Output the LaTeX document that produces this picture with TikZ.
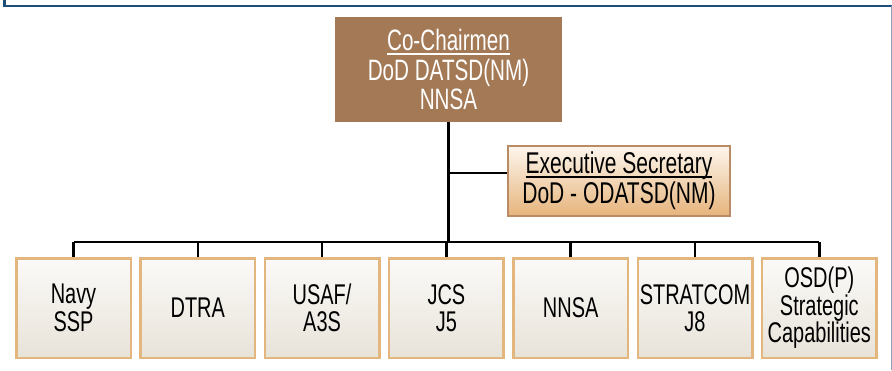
\documentclass[tikz,border=0pt]{standalone}
\usepackage{fontspec}
\setmainfont{Liberation Sans}[FakeStretch=0.7]
\usepackage{xcolor}
\definecolor{chairbrown}{RGB}{164,121,85}
\definecolor{secedge}{RGB}{186,140,102}
\definecolor{sectop}{RGB}{253,246,237}
\definecolor{secbottom}{RGB}{230,180,124}
\definecolor{memberedge}{RGB}{226,182,124}
\definecolor{membertop}{RGB}{251,250,248}
\definecolor{memberbottom}{RGB}{232,227,217}
\definecolor{framedark}{RGB}{31,78,121}
\definecolor{framelight}{RGB}{143,163,184}
\newcommand{\headline}[1]{\setbox0\hbox{#1}\rlap{\rule[-4pt]{\wd0}{1.3pt}}\box0}

\begin{document}
\begin{tikzpicture}[
            x = 1pt, y = 1pt, % one unit per pixel
            link/.style = {draw=black, line width=2.5pt}, % connector style
            chair/.style = {fill=chairbrown, text=white, minimum width=227pt,
                minimum height=105pt, align=center, inner sep=1pt,
                font=\fontsize{29.5}{29.5}\selectfont},
            secretary/.style = {draw=secedge, line width=2pt, top color=sectop,
                bottom color=secbottom, minimum width=222pt, minimum height=70pt,
                align=center, inner sep=1pt, font=\fontsize{30}{30}\selectfont},
            member/.style = {draw=memberedge, line width=2.5pt, top color=membertop,
                bottom color=memberbottom, minimum width=114.5pt, minimum height=99.5pt,
                align=center, inner sep=0pt, font=\fontsize{28.5}{27.5}\selectfont}
        ]
\useasboundingbox (0,0) rectangle (892,370);

% frame
\draw[framedark, line width=2.5pt] (4.5,370) -- (4.5,364) -- (892,364);
\draw[framelight, line width=1pt] (891.5,364) -- (891.5,0);

\node[chair] (C) at (448.5,300.5) {\headline{Co-Chairmen}\\DoD DATSD(NM)\\NNSA};
\node[secretary] (S) at (619,189) {\headline{Executive Secretary}\\DoD - ODATSD(NM)};

\node[member] (M1) at (73.5,62) {Navy\\SSP};
\node[member] (M2) at (197.8,62) {DTRA};
\node[member] (M3) at (322.1,62) {USAF/\\A3S};
\node[member] (M4) at (446.4,62) {JCS\\J5};
\node[member] (M5) at (570.7,62) {NNSA};
\node[member] (M6) at (695,62) {STRATCOM\\J8};
\node[member] (M7) at (819.3,62) {OSD(P)\\Strategic\\Capabilities};

\coordinate (bus) at (448.5,128);
\coordinate (tap) at (448.5,197);

 \path [link] (C.south) -- (bus);
 \path [link] (tap) -- (tap -| S.west);
 \path [link] (M1.north |- bus) -- (M7.north |- bus);
\foreach \m in {M1,M2,M3,M4,M5,M6,M7}
   \path [link] (\m.north) -- (\m.north |- bus);
\end{tikzpicture}
\end{document}
